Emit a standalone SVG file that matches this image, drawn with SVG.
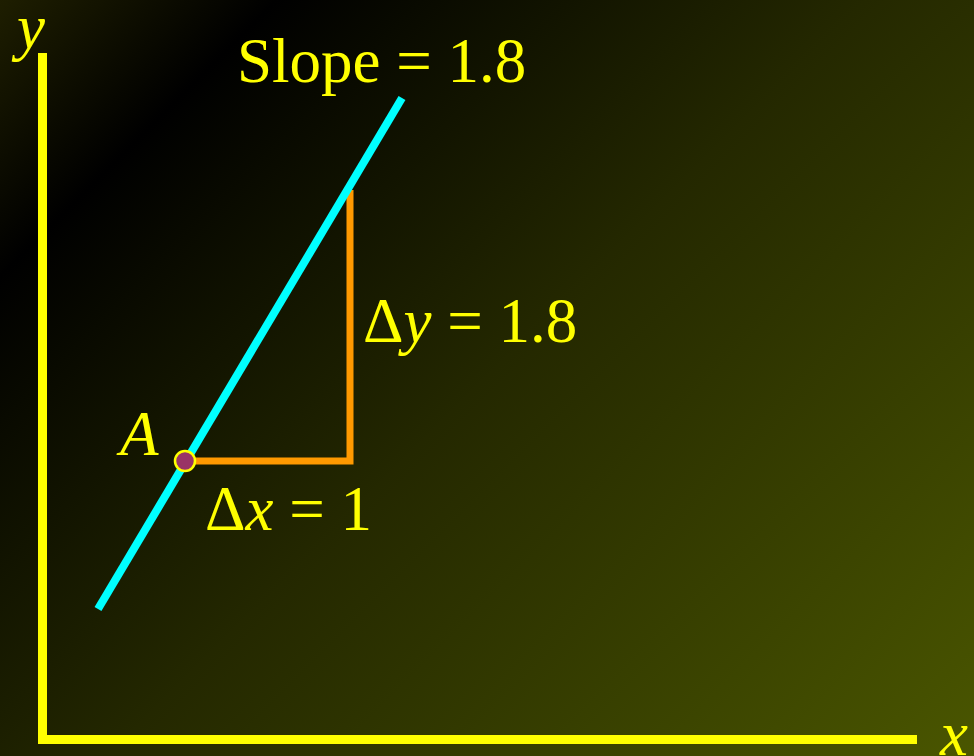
<svg xmlns="http://www.w3.org/2000/svg" width="974" height="756" viewBox="0 0 974 756">
  <defs>
    <linearGradient id="bg" gradientUnits="userSpaceOnUse" x1="0" y1="0" x2="865" y2="865">
      <stop offset="0" stop-color="#1e1e00"/>
      <stop offset="0.16" stop-color="#000000"/>
      <stop offset="0.5" stop-color="#242800"/>
      <stop offset="1" stop-color="#4a5600"/>
    </linearGradient>
    <style>
      .lbl { font-family: "Liberation Serif", "Times New Roman", serif; font-size: 63px; fill: #ffff00; }
      .it { font-style: italic; }
      .axis { stroke: #ffff00; stroke-width: 9; fill: none; }
    </style>
  </defs>
  <rect x="0" y="0" width="974" height="756" fill="url(#bg)"/>

  <g id="axes">
    <line class="axis" x1="42.5" y1="53" x2="42.5" y2="744"/>
    <line class="axis" x1="38" y1="739.5" x2="917" y2="739.5"/>
    <text class="lbl it" x="17" y="48">y</text>
    <text class="lbl it" x="940" y="755">x</text>
  </g>

  <g id="connectors">
    <polyline points="185,461 350,461 350,190" fill="none" stroke="#ff9900" stroke-width="7"/>
    <line x1="98" y1="609" x2="402" y2="98" stroke="#00ffff" stroke-width="8"/>
  </g>

  <g id="pointA">
    <circle cx="185" cy="461" r="10" fill="#993366" stroke="#ffff00" stroke-width="2.5"/>
    <text class="lbl it" x="120" y="455">A</text>
  </g>

  <g id="slope-label">
    <text class="lbl" x="237" y="82">Slope = 1.8</text>
  </g>
  <g id="dy-label">
    <text class="lbl" x="363" y="342">Δ<tspan class="it">y</tspan> = 1.8</text>
  </g>
  <g id="dx-label">
    <text class="lbl" x="205" y="530">Δ<tspan class="it">x</tspan> = 1</text>
  </g>
</svg>
